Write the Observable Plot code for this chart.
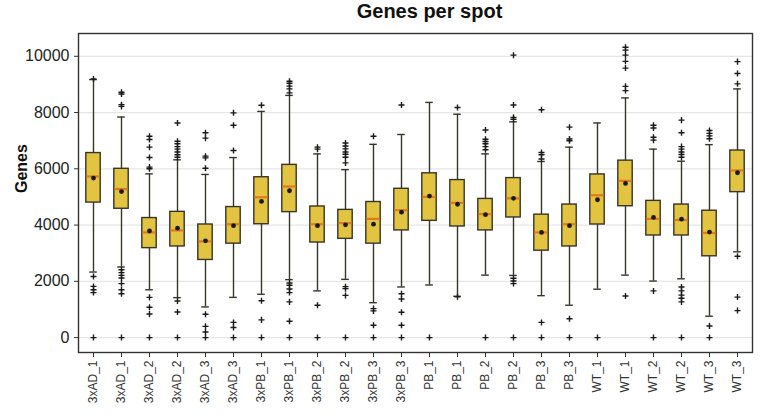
<!DOCTYPE html>
<html>
<head>
<meta charset="utf-8">
<script src="https://cdn.jsdelivr.net/npm/d3@7"></script>
<script src="https://cdn.jsdelivr.net/npm/@observablehq/plot@0.6"></script>
<style>
  html, body { margin: 0; padding: 0; background: #fff; }
  #chart svg { font-family: "Liberation Sans", Arial, sans-serif; }
</style>
</head>
<body>
<div id="chart"></div>
<script>
const title = "Genes per spot";
const yLabel = "Genes";
const labels = ["3xAD_1","3xAD_1","3xAD_2","3xAD_2","3xAD_3","3xAD_3",
  "3xPB_1","3xPB_1","3xPB_2","3xPB_2","3xPB_3","3xPB_3",
  "PB_1","PB_1","PB_2","PB_2","PB_3","PB_3",
  "WT_1","WT_1","WT_2","WT_2","WT_3","WT_3"];
const q1 =     [4800,4580,3180,3240,2760,3340,4030,4460,3380,3510,3340,3810,4150,3950,3810,4270,3090,3240,4020,4670,3630,3630,2890,5170];
const median = [5730,5280,3740,3810,3420,4030,4990,5370,4030,4070,4220,4530,5000,4790,4390,4950,3740,4030,5060,5570,4220,4180,3720,5940];
const q3 =     [6560,6000,4250,4470,4020,4640,5700,6140,4660,4540,4820,5290,5840,5600,4930,5670,4370,4730,5800,6290,4860,4730,4510,6650];
const mean =   [5670,5190,3790,3890,3440,3980,4840,5220,3980,4010,4030,4460,5030,4740,4370,4950,3740,3980,4900,5480,4270,4210,3750,5860];
const whiskerLow =  [2330,2510,1700,1420,1090,1430,1540,2060,1660,2070,1240,1800,1870,1470,2220,2210,1490,1150,1720,2220,2010,2090,760,3050];
const whiskerHigh = [9170,7840,5820,6320,5800,6400,8040,8610,6530,5970,6870,7220,8360,7940,6530,7670,6260,6770,7630,8520,6700,6270,6860,8840];
const outliers = [
  [9190,2170,1820,1700,1600,0],
  [8720,8660,8280,8220,2410,2310,2210,2120,1920,1700,1560,0],
  [7160,7040,6770,6400,6060,6000,1430,1080,840,0],
  [7630,6980,6890,6790,6700,6600,6500,6410,1300,910,0],
  [7280,7090,6450,6390,6020,830,400,200,0],
  [7990,7550,6650,540,360,0],
  [8260,1310,630,0],
  [9110,9040,8940,8840,8700,1940,1860,1730,1600,1270,580,0],
  [6770,6700,1150,0],
  [6920,6810,6710,6600,6520,6410,6210,1810,1740,1500,0],
  [7160,1030,950,440,0],
  [8270,1560,1370,900,440,0],
  [0],
  [8180,1450],
  [7380,7050,6970,6890,6790,6680,0],
  [10040,8270,7830,7760,2110,2010,1920,0],
  [8100,6580,6500,6350,540,0],
  [7480,7060,7000,670,0],
  [0],
  [10320,10220,10040,9820,9580,8930,8780,1480],
  [7550,7450,7120,7020,1660,0],
  [7730,7280,6790,6700,6600,6510,6410,1800,1660,1510,1400,1270,0],
  [7360,7260,7170,7070,410,0],
  [9810,9390,9020,2890,1440,960]
];
const yTicks = [0, 2000, 4000, 6000, 8000, 10000];

const idx = d3.range(labels.length);
const boxes = idx.map(i => ({i, q1: q1[i], median: median[i], q3: q3[i], mean: mean[i], lo: whiskerLow[i], hi: whiskerHigh[i]}));
const outs = idx.flatMap(i => outliers[i].map(v => ({i, v})));

const boxFill = "#e3c440";
const boxStroke = "#353528";
const medColor = "#e07a1e";

const chart = Plot.plot({
  width: 760,
  height: 416,
  marginLeft: 78,
  marginRight: 8,
  marginTop: 33,
  marginBottom: 64,
  style: {fontFamily: "'Liberation Sans', Arial, sans-serif", background: "#fff", overflow: "visible"},
  x: {type: "band", domain: idx, padding: 0},
  y: {domain: [-530, 10810]},
  marks: [
    Plot.gridY(yTicks, {stroke: "#e6e6e6", strokeOpacity: 1, strokeWidth: 1.3}),
    Plot.axisY({ticks: yTicks, tickSize: 4, stroke: "#333", text: null, label: null}),
    Plot.text(yTicks, {y: d => d, text: d => String(d), frameAnchor: "left", textAnchor: "end", dx: -9, fontSize: 16, fill: "#222"}),
    Plot.axisX({tickSize: 5, tickPadding: 3, tickRotate: -90, fontSize: 12, fill: "#333", stroke: "#333", label: null, tickFormat: i => labels[i]}),
    Plot.ruleX(boxes, {x: "i", y1: "lo", y2: "hi", stroke: boxStroke, strokeWidth: 1.4}),
    Plot.tickY(boxes, {x: "i", y: "lo", stroke: boxStroke, strokeWidth: 1.4, inset: 10.2}),
    Plot.tickY(boxes, {x: "i", y: "hi", stroke: boxStroke, strokeWidth: 1.4, inset: 10.2}),
    Plot.barY(boxes, {x: "i", y1: "q1", y2: "q3", fill: boxFill, stroke: boxStroke, strokeWidth: 1.4, insetLeft: 6.8, insetRight: 6.8}),
    Plot.tickY(boxes, {x: "i", y: "median", stroke: medColor, strokeWidth: 2.2, inset: 7.4}),
    Plot.dot(boxes, {x: "i", y: "mean", r: 2.4, fill: "#1a1a1a", stroke: "none"}),
    Plot.dot(outs, {x: "i", y: "v", symbol: "plus", r: 2.1, stroke: "#1a1a1a", strokeWidth: 1.4}),
    Plot.frame({stroke: "#333", strokeWidth: 1.4}),
    Plot.text([title], {frameAnchor: "top", dx: 14, dy: -16, lineAnchor: "bottom", fontSize: 20, fontWeight: "bold", fill: "#111"}),
    Plot.text([yLabel], {frameAnchor: "left", dx: -57, rotate: -90, fontSize: 16, fontWeight: "bold", fill: "#111"})
  ]
});
document.getElementById("chart").appendChild(chart);
</script>
</body>
</html>
